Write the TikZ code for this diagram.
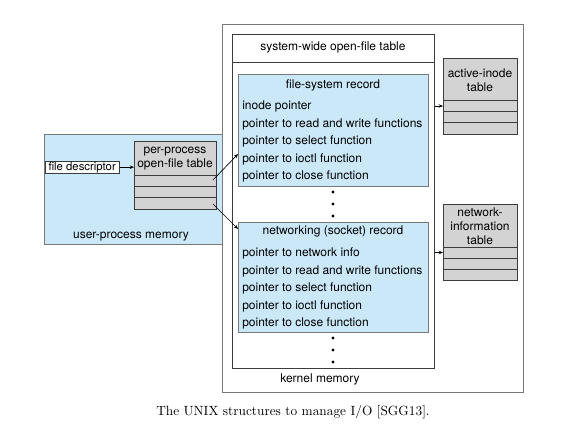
\documentclass[tikz,border=0pt]{standalone}
\usepackage{fontspec}
\newfontfamily\hv{TeX Gyre Heros}
\usetikzlibrary{arrows.meta,calc}
\definecolor{lblue}{RGB}{203,232,248}
\definecolor{lgray}{RGB}{211,211,211}
\definecolor{edge}{RGB}{120,120,120}
\definecolor{dark}{RGB}{60,60,60}
\tikzset{
  bx/.style={draw=edge, line width=0.5pt, inner sep=0pt, anchor=north west},
  bluebox/.style={bx, fill=lblue},
  graybox/.style={bx, fill=lgray, draw=dark},
  txt/.style={font=\hv\fontsize{9}{10.5}\selectfont, inner sep=0pt},
  ltxt/.style={txt, anchor=base west},
  arr/.style={-{Stealth[length=3.2pt,width=2.6pt]}, line width=0.5pt, draw=black},
  rowline/.style={draw=dark, line width=0.5pt},
  dot/.style={circle, fill=black, inner sep=0pt, minimum size=2.6pt}
}
\begin{document}
\begin{tikzpicture}[x=0.75pt,y=-0.75pt]
\useasboundingbox (0,0) rectangle (586,426);
% user-process memory
\node[bluebox, minimum width=133.5pt, minimum height=82.5pt] (user) at (44,134) {};
\node[txt] (userlbl) at (131,237) {user-process memory};
% per-process open-file table
\node[graybox, minimum width=61.5pt, minimum height=51pt] (pp) at (134,141) {};
\node[txt, align=center] (pplbl) at (175,159) {per-process\\open-file table};
\draw[rowline] (134,175) -- (216,175);
\draw[rowline] (134,186) -- (216,186);
\draw[rowline] (134,197) -- (216,197);
% file descriptor
\node[bx, fill=white, draw=dark, minimum width=56pt, minimum height=9.5pt] (fd) at (44.5,160.5) {};
\node[txt, font=\hv\fontsize{8.5}{10}\selectfont] (fdlbl) at (fd.center) {file descriptor};
% kernel memory
\node[bx, minimum width=225.75pt, minimum height=276pt] (kern) at (222,24) {};
\node[txt] (kernlbl) at (320,379) {kernel memory};
% system-wide open-file table
\node[bx, draw=dark, line width=1pt, minimum width=151.5pt, minimum height=250.5pt] (sys) at (232,34) {};
\draw[draw=dark, line width=0.7pt] (232,62) -- (434,62);
\node[txt] (syslbl) at (333,47.5) {system-wide open-file table};
% file-system record
\node[bluebox, minimum width=142.5pt, minimum height=84pt] (fs) at (238,74) {};
\node[txt] (fslbl) at (333,85.5) {file-system record};
\node[ltxt] (fs1) at (242,109.5) {inode pointer};
\node[ltxt] (fs2) at (242,127) {pointer to read and write functions};
\node[ltxt] (fs3) at (242,144.5) {pointer to select function};
\node[ltxt] (fs4) at (242,162) {pointer to ioctl function};
\node[ltxt] (fs5) at (242,179.5) {pointer to close function};
% dots
\node[dot] (d1) at (333,192) {};
\node[dot] (d2) at (333,204) {};
\node[dot] (d3) at (333,216) {};
% networking record
\node[bluebox, minimum width=142.5pt, minimum height=82.5pt] (net) at (238,222) {};
\node[txt] (netlbl) at (333,231.5) {networking (socket) record};
\node[ltxt] (n1) at (242,256.5) {pointer to network info};
\node[ltxt] (n2) at (242,274) {pointer to read and write functions};
\node[ltxt] (n3) at (242,291.5) {pointer to select function};
\node[ltxt] (n4) at (242,309) {pointer to ioctl function};
\node[ltxt] (n5) at (242,326.5) {pointer to close function};
\node[dot] (d4) at (333,338) {};
\node[dot] (d5) at (333,350) {};
\node[dot] (d6) at (333,362) {};
% active-inode table
\node[graybox, minimum width=55.5pt, minimum height=57pt] (ai) at (443,58) {};
\node[txt, align=center] (ailbl) at (480,80) {active-inode\\table};
\draw[rowline] (443,100) -- (517,100);
\draw[rowline] (443,111) -- (517,111);
\draw[rowline] (443,122) -- (517,122);
% network-information table
\node[graybox, minimum width=55.5pt, minimum height=57pt] (ni) at (443,204) {};
\node[txt, align=center] (nilbl) at (480,226) {network-\\information\\table};
\draw[rowline] (443,247) -- (517,247);
\draw[rowline] (443,258) -- (517,258);
\draw[rowline] (443,269) -- (517,269);
% connectors
\coordinate (pr1) at (213,180);
\coordinate (pr3) at (213,204);
\coordinate (fsin) at (238,154);
\coordinate (netin) at (238,229);
\coordinate (aiin) at (443,106);
\coordinate (niin) at (443,252.5);
\draw[arr] (fd.east) -- (fd.east -| pp.west);
\draw[arr] (pr1) -- (fsin);
\draw[arr] (pr3) -- (netin);
\draw[arr] (sys.east |- aiin) -- (aiin);
\draw[arr] (sys.east |- niin) -- (niin);
% caption
\node[font=\fontsize{10}{12}\selectfont, inner sep=0pt] (cap) at (293,412) {The UNIX structures to manage I/O [SGG13].};
\end{tikzpicture}
\end{document}
